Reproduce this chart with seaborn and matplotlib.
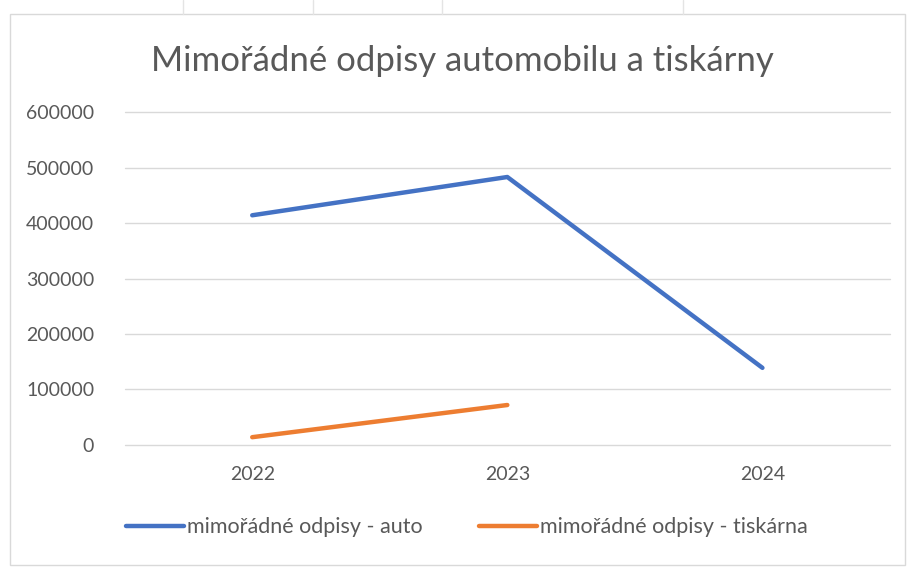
import pandas as pd
import numpy as np
import matplotlib.pyplot as plt
import seaborn as sns
from matplotlib.lines import Line2D
from matplotlib.patches import Rectangle

# data
years = ["2022", "2023", "2024"]
auto = [414000, 483000, 139000]
tiskarna = [14000, 72000, np.nan]
series_names = ["mimořádné odpisy - auto", "mimořádné odpisy - tiskárna"]
y_ticks = [0, 100000, 200000, 300000, 400000, 500000, 600000]

df = pd.DataFrame({
    "rok": years * 2,
    "hodnota": auto + tiskarna,
    "rada": [series_names[0]] * 3 + [series_names[1]] * 3,
})

sns.set_style("white")
plt.rcParams["font.family"] = ["Lato", "DejaVu Sans"]

fig = plt.figure(figsize=(9.1, 5.69), dpi=100)
ax = fig.add_axes([0.137, 0.218, 0.841, 0.585])

palette = {series_names[0]: "#4472C4", series_names[1]: "#ED7D31"}
sns.lineplot(data=df, x="rok", y="hodnota", hue="rada", palette=palette,
             linewidth=3.2, ax=ax, legend=False, solid_capstyle="round")

ax.set_xlim(-0.5, 2.5)
ax.set_ylim(0, 600000)
ax.set_yticks(y_ticks)
ax.set_yticklabels([str(v) for v in y_ticks])
ax.grid(axis="y", color="#D9D9D9", linewidth=1)
for gl in ax.get_ygridlines():
    gl.set_clip_on(False)
ax.set_axisbelow(True)
for s in ax.spines.values():
    s.set_visible(False)
ax.tick_params(axis="both", length=0, labelsize=14, labelcolor="#595959")
ax.tick_params(axis="x", pad=15)
ax.tick_params(axis="y", pad=22)
ax.set_xlabel("")
ax.set_ylabel("")

fig.text(0.508, 0.893, "Mimořádné odpisy automobilu a tiskárny",
         ha="center", va="center", fontsize=25, color="#595959")

handles = [Line2D([0], [0], color=palette[n], linewidth=3.2) for n in series_names]
fig.legend(handles, series_names, loc="center", bbox_to_anchor=(0.513, 0.073),
           ncol=2, frameon=False, fontsize=15.5, labelcolor="#595959",
           handlelength=2.7, handletextpad=0.15, columnspacing=2.6)

# chart frame and faint spreadsheet cell lines behind it
fig.patches.append(Rectangle((0.011, 0.007), 0.983, 0.968, transform=fig.transFigure,
                             fill=False, edgecolor="#D9D9D9", linewidth=1))
for xp in [183, 313, 442, 683]:
    fig.lines.append(Line2D([xp / 910, xp / 910], [0.975, 1.0], transform=fig.transFigure,
                            color="#E4E4E4", linewidth=1))

fig.savefig("out.png", dpi=100)
plt.close(fig)
